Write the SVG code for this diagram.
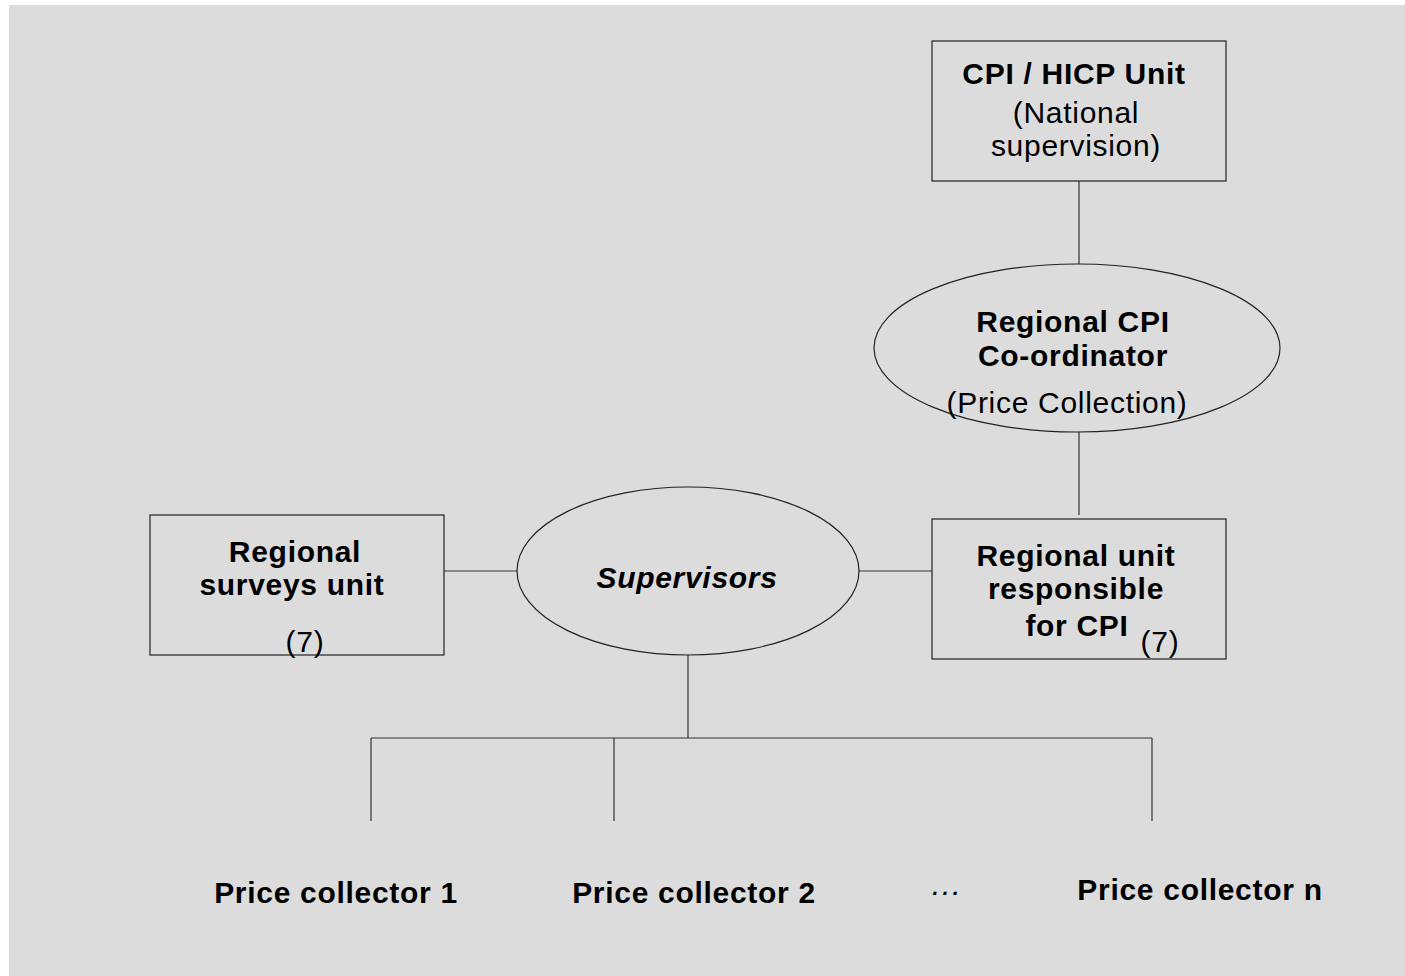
<svg xmlns="http://www.w3.org/2000/svg" width="1405" height="976" viewBox="0 0 1405 976">
<style>
.shape{fill:#dcdcdc;stroke:#222;stroke-width:1.2}
.conn line{stroke:#333;stroke-width:1.2}
text{font-family:"Liberation Sans",Arial,sans-serif;font-size:30px;fill:#000;text-anchor:middle;letter-spacing:0.7px}
.b{font-weight:bold}
</style>
<rect x="0" y="0" width="1405" height="976" fill="#ffffff"/>
<rect x="9" y="5" width="1396" height="971" fill="#dcdcdc"/>
<g class="conn" id="connectors">
<line x1="1079" y1="181" x2="1079" y2="264"/>
<line x1="1079" y1="432" x2="1079" y2="515"/>
<line x1="444" y1="571" x2="517" y2="571"/>
<line x1="859" y1="571" x2="932" y2="571"/>
<line x1="688" y1="655" x2="688" y2="738"/>
<line x1="371" y1="738" x2="1152" y2="738"/>
<line x1="371" y1="738" x2="371" y2="821"/>
<line x1="614" y1="738" x2="614" y2="821"/>
<line x1="1152" y1="738" x2="1152" y2="821"/>
</g>
<g id="cpi-hicp-unit">
<rect class="shape" x="932" y="41" width="294" height="140"/>
<text class="b" x="1074" y="84">CPI / HICP Unit</text>
<text x="1076" y="123">(National</text>
<text x="1076" y="156">supervision)</text>
</g>
<g id="regional-cpi-coordinator">
<ellipse class="shape" cx="1077" cy="348" rx="203" ry="84"/>
<text class="b" x="1073" y="332">Regional CPI</text>
<text class="b" x="1073" y="366">Co-ordinator</text>
<text x="1067" y="413">(Price Collection)</text>
</g>
<g id="regional-surveys-unit">
<rect class="shape" x="150" y="515" width="294" height="140"/>
<text class="b" x="295" y="562">Regional</text>
<text class="b" x="292" y="595">surveys unit</text>
<text x="305" y="652">(7)</text>
</g>
<g id="supervisors">
<ellipse class="shape" cx="688" cy="571" rx="171" ry="84"/>
<text class="b" x="687" y="588" font-style="italic">Supervisors</text>
</g>
<g id="regional-unit-cpi">
<rect class="shape" x="932" y="519" width="294" height="140"/>
<text class="b" x="1076" y="566">Regional unit</text>
<text class="b" x="1076" y="599">responsible</text>
<text class="b" x="1077" y="636">for CPI</text>
<text x="1160" y="652">(7)</text>
</g>
<g id="price-collector-1">
<text class="b" x="336" y="903">Price collector 1</text>
</g>
<g id="price-collector-2">
<text class="b" x="694" y="903">Price collector 2</text>
</g>
<g id="ellipsis">
<text x="946" y="895" style="font-size:32px;letter-spacing:0" font-style="italic">…</text>
</g>
<g id="price-collector-n">
<text class="b" x="1200" y="900">Price collector n</text>
</g>
</svg>
